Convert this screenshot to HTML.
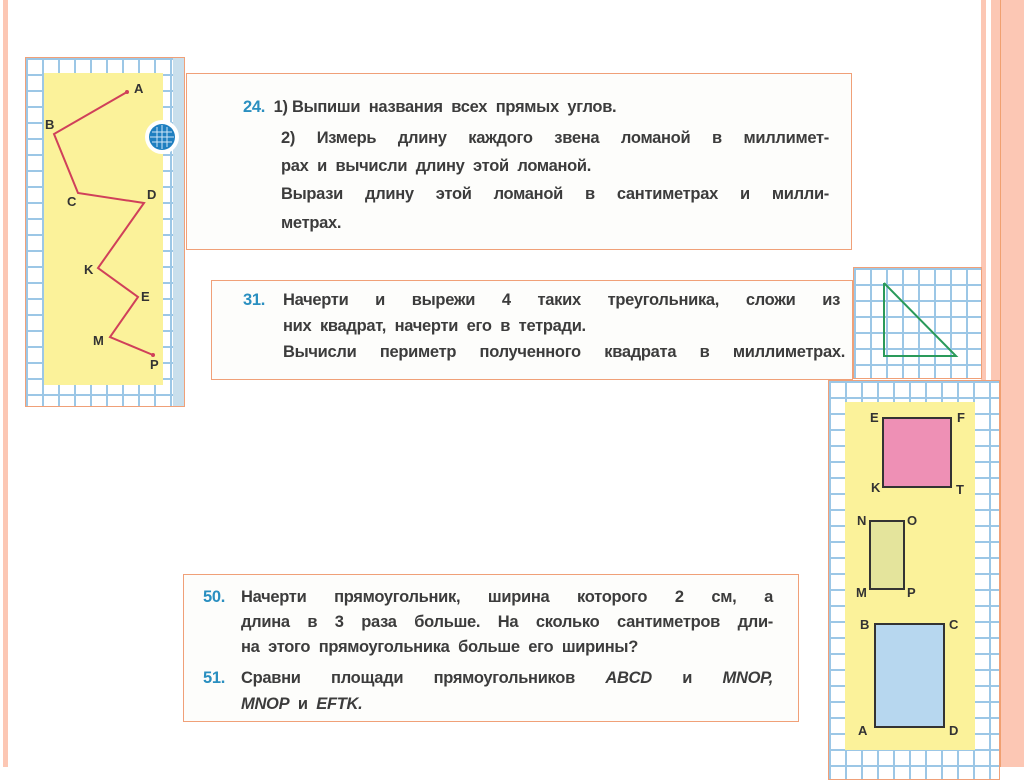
<!DOCTYPE html>
<html><head><meta charset="utf-8">
<style>
body{margin:0;width:1024px;height:767px;background:#fff;position:relative;overflow:hidden;font-family:"Liberation Sans","DejaVu Sans",sans-serif;}
.a{position:absolute}
.grid{background-color:#fff;background-image:linear-gradient(to right,#9cc7e6 2px,transparent 2px),linear-gradient(to bottom,#9cc7e6 2px,transparent 2px);background-size:16px 16px;}
.box{position:absolute;border:1.5px solid #f0a078;background:#fdfdfb;}
.t{position:absolute;font-size:16.5px;font-weight:bold;color:#3c3c3c;white-space:nowrap;letter-spacing:-0.3px}
.j{text-align:justify;text-align-last:justify;white-space:normal;}
.n{color:#2a8fc0}
.lbl{position:absolute;font-size:13px;color:#333;font-weight:bold}
</style></head><body>
<div class="a" style="left:3px;top:0;width:5px;height:767px;background:#fcc7b4"></div>
<div class="a" style="left:981px;top:0;width:5px;height:767px;background:#fcc7b4"></div>
<div class="a" style="left:991px;top:0;width:33px;height:767px;background:#fcc7b4"></div>
<div class="a" style="left:1000px;top:0;width:1px;height:767px;background:#f0a070"></div>

<div class="a grid" style="left:25px;top:57px;width:160px;height:350px;border:1px solid #f0a078;box-sizing:border-box"></div>
<div class="a" style="left:173px;top:58px;width:11px;height:348px;background:#c9dfec"></div>
<div class="a" style="left:44px;top:73px;width:119px;height:312px;background:#fbf29a"></div>
<svg class="a" style="left:0;top:0" width="200" height="420">
<polyline points="127,92 54,134 78,193 144,203 98,268 138,297 110,337 153,355" fill="none" stroke="#d0405a" stroke-width="2"/>
<circle cx="127" cy="92" r="2" fill="#d0405a"/><circle cx="153" cy="355" r="2" fill="#d0405a"/>
<circle cx="162" cy="137" r="17" fill="#fff"/><circle cx="162" cy="137" r="13" fill="#1f7fc0"/>
<g stroke="#cfe6f7" stroke-width="1"><line x1="157" y1="127" x2="157" y2="147"/><line x1="162" y1="125" x2="162" y2="149"/><line x1="167" y1="127" x2="167" y2="147"/><line x1="152" y1="132" x2="172" y2="132"/><line x1="150" y1="137" x2="174" y2="137"/><line x1="152" y1="142" x2="172" y2="142"/></g>
</svg>
<div class="lbl" style="left:134px;top:81px">A</div>
<div class="lbl" style="left:45px;top:117px">B</div>
<div class="lbl" style="left:67px;top:194px">C</div>
<div class="lbl" style="left:147px;top:187px">D</div>
<div class="lbl" style="left:84px;top:262px">K</div>
<div class="lbl" style="left:141px;top:289px">E</div>
<div class="lbl" style="left:93px;top:333px">M</div>
<div class="lbl" style="left:150px;top:357px">P</div>

<div class="box" style="left:186px;top:73px;width:664px;height:175px"></div>
<div class="t" style="left:243px;top:98px"><span class="n">24.</span>&nbsp; 1) Выпиши&nbsp; названия&nbsp; всех&nbsp; прямых&nbsp; углов.</div>
<div class="t j" style="left:281px;top:129px;width:548px">2) Измерь длину каждого звена ломаной в миллимет-</div>
<div class="t" style="left:281px;top:157px">рах&nbsp; и&nbsp; вычисли&nbsp; длину&nbsp; этой&nbsp; ломаной.</div>
<div class="t j" style="left:281px;top:185px;width:548px">Вырази длину этой ломаной в сантиметрах и милли-</div>
<div class="t" style="left:281px;top:214px">метрах.</div>

<div class="a grid" style="left:853px;top:267px;width:129px;height:112px;border:1px solid #f0a078;box-sizing:border-box"></div>
<svg class="a" style="left:850px;top:265px" width="140" height="120"><polyline points="34,18 34,91 106,91 34,18" fill="none" stroke="#2a9a5a" stroke-width="2"/></svg>

<div class="box" style="left:211px;top:280px;width:640px;height:98px"></div>
<div class="t" style="left:243px;top:291px"><span class="n">31.</span></div>
<div class="t j" style="left:283px;top:291px;width:557px">Начерти и вырежи 4 таких треугольника, сложи из</div>
<div class="t" style="left:283px;top:317px">них&nbsp; квадрат,&nbsp; начерти&nbsp; его&nbsp; в&nbsp; тетради.</div>
<div class="t j" style="left:283px;top:343px;width:562px">Вычисли периметр полученного квадрата в миллиметрах.</div>

<div class="a grid" style="left:828px;top:380px;width:172px;height:400px;border:1px solid #f0a078;box-sizing:border-box"></div>
<div class="a" style="left:845px;top:402px;width:130px;height:348px;background:#fbf29a"></div>
<div class="a" style="left:882px;top:417px;width:70px;height:71px;background:#ee90b5;border:2px solid #333;box-sizing:border-box"></div>
<div class="a" style="left:869px;top:520px;width:36px;height:70px;background:#e4e49c;border:2px solid #333;box-sizing:border-box"></div>
<div class="a" style="left:874px;top:623px;width:71px;height:105px;background:#b7d7ef;border:2px solid #333;box-sizing:border-box"></div>
<div class="lbl" style="left:870px;top:410px">E</div><div class="lbl" style="left:957px;top:410px">F</div>
<div class="lbl" style="left:871px;top:480px">K</div><div class="lbl" style="left:956px;top:482px">T</div>
<div class="lbl" style="left:857px;top:513px">N</div><div class="lbl" style="left:907px;top:513px">O</div>
<div class="lbl" style="left:856px;top:585px">M</div><div class="lbl" style="left:907px;top:585px">P</div>
<div class="lbl" style="left:860px;top:617px">B</div><div class="lbl" style="left:949px;top:617px">C</div>
<div class="lbl" style="left:858px;top:723px">A</div><div class="lbl" style="left:949px;top:723px">D</div>

<div class="box" style="left:183px;top:574px;width:614px;height:146px"></div>
<div class="t" style="left:203px;top:588px"><span class="n">50.</span></div>
<div class="t j" style="left:241px;top:588px;width:532px">Начерти прямоугольник, ширина которого 2 см, а</div>
<div class="t j" style="left:241px;top:613px;width:532px">длина в 3 раза больше. На сколько сантиметров дли-</div>
<div class="t" style="left:241px;top:638px">на&nbsp; этого&nbsp; прямоугольника&nbsp; больше&nbsp; его&nbsp; ширины?</div>
<div class="t" style="left:203px;top:669px"><span class="n">51.</span></div>
<div class="t j" style="left:241px;top:669px;width:532px">Сравни площади прямоугольников <i>ABCD</i> и <i>MNOP,</i></div>
<div class="t" style="left:241px;top:695px"><i>MNOP</i>&nbsp; и&nbsp; <i>EFTK.</i></div>
</body></html>
